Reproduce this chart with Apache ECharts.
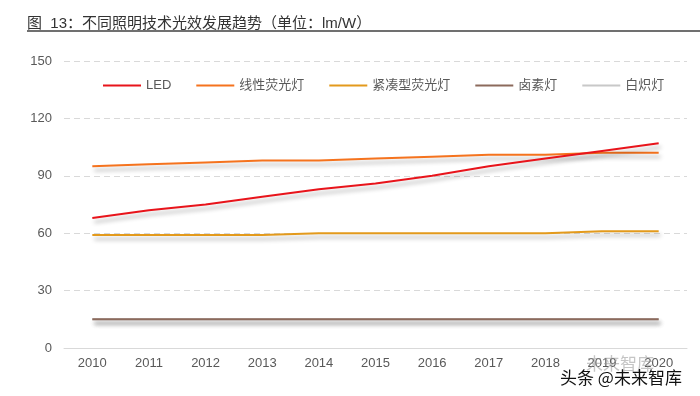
<!DOCTYPE html>
<html>
<head>
<meta charset="utf-8">
<style>
  html, body { margin: 0; padding: 0; background: #fff; }
  #chart { width: 700px; height: 396px; }
</style>
<script src="https://cdn.jsdelivr.net/npm/echarts@6/dist/echarts.min.js"></script>
</head>
<body>
<div id="chart"></div>
<script>
  var years = ['2010', '2011', '2012', '2013', '2014', '2015', '2016', '2017', '2018', '2019', '2020'];
  var ledData = [68, 72, 75, 79, 83, 86, 90, 95, 99, 103, 107];
  var linearData = [95, 96, 97, 98, 98, 99, 100, 101, 101, 102, 102];
  var cflData = [59, 59, 59, 59, 60, 60, 60, 60, 60, 61, 61];
  var halogenData = [15, 15, 15, 15, 15, 15, 15, 15, 15, 15, 15];
  var incandescentData = [15, 15, 15, 15, 15, 15, 15, 15, 15, 15, 15];

  var chart = echarts.init(document.getElementById('chart'));
  var font = '"Liberation Sans", "Noto Sans CJK SC", sans-serif';

  function lineSeries(name, data, color, z) {
    return {
      name: name,
      type: 'line',
      data: data,
      symbol: 'none',
      z: z,
      lineStyle: {
        color: color,
        width: 2,
        shadowColor: 'rgba(0, 0, 0, 0.3)',
        shadowBlur: 4,
        shadowOffsetX: 2,
        shadowOffsetY: 4
      },
      itemStyle: { color: color }
    };
  }

  chart.setOption({
    backgroundColor: '#fff',
    animation: false,
    textStyle: { fontFamily: font },
    title: {
      text: '图  13：不同照明技术光效发展趋势（单位：lm/W）',
      left: 22,
      top: 11,
      textStyle: { color: '#333', fontSize: 15, fontWeight: 'normal', fontFamily: font }
    },
    graphic: [{
      type: 'line',
      shape: { x1: 27, y1: 31, x2: 700, y2: 31 },
      style: { stroke: '#404040', lineWidth: 1.5 }
    }, {
      type: 'text',
      left: 586,
      top: 355,
      z: 99,
      style: { text: '未来智库', fill: 'rgba(150,150,150,0.55)', font: '17px "Noto Sans CJK SC"' }
    }, {
      type: 'text',
      left: 560,
      top: 369,
      z: 100,
      style: { text: '头条 @未来智库', fill: '#111', font: '17px "Noto Sans CJK SC"' }
    }],
    legend: {
      left: 98,
      top: 74,
      icon: 'rect',
      itemWidth: 38,
      itemHeight: 2,
      itemGap: 25,
      textStyle: { color: '#595959', fontSize: 13, fontFamily: font },
      data: ['LED', '线性荧光灯', '紧凑型荧光灯', '卤素灯', '白炽灯']
    },
    grid: {
      left: 64,
      right: 13,
      top: 61,
      bottom: 48,
      containLabel: false
    },
    xAxis: {
      type: 'category',
      data: years,
      boundaryGap: true,
      axisLine: { lineStyle: { color: '#d9d9d9', width: 1 } },
      axisTick: { show: false },
      axisLabel: { color: '#595959', fontSize: 13, margin: 9, interval: 0, fontFamily: font }
    },
    yAxis: {
      type: 'value',
      min: 0,
      max: 150,
      interval: 30,
      axisLine: { show: false },
      axisTick: { show: false },
      axisLabel: { color: '#595959', fontSize: 13, margin: 12, fontFamily: font },
      splitLine: { lineStyle: { color: '#d9d9d9', type: [6, 4] } }
    },
    series: [
      lineSeries('LED', ledData, '#e8141b', 5),
      lineSeries('线性荧光灯', linearData, '#f5731e', 4),
      lineSeries('紧凑型荧光灯', cflData, '#e39a1c', 3),
      lineSeries('卤素灯', halogenData, '#8c6a5c', 2),
      lineSeries('白炽灯', incandescentData, '#c8c8c8', 1)
    ]
  });
</script>
</body>
</html>
